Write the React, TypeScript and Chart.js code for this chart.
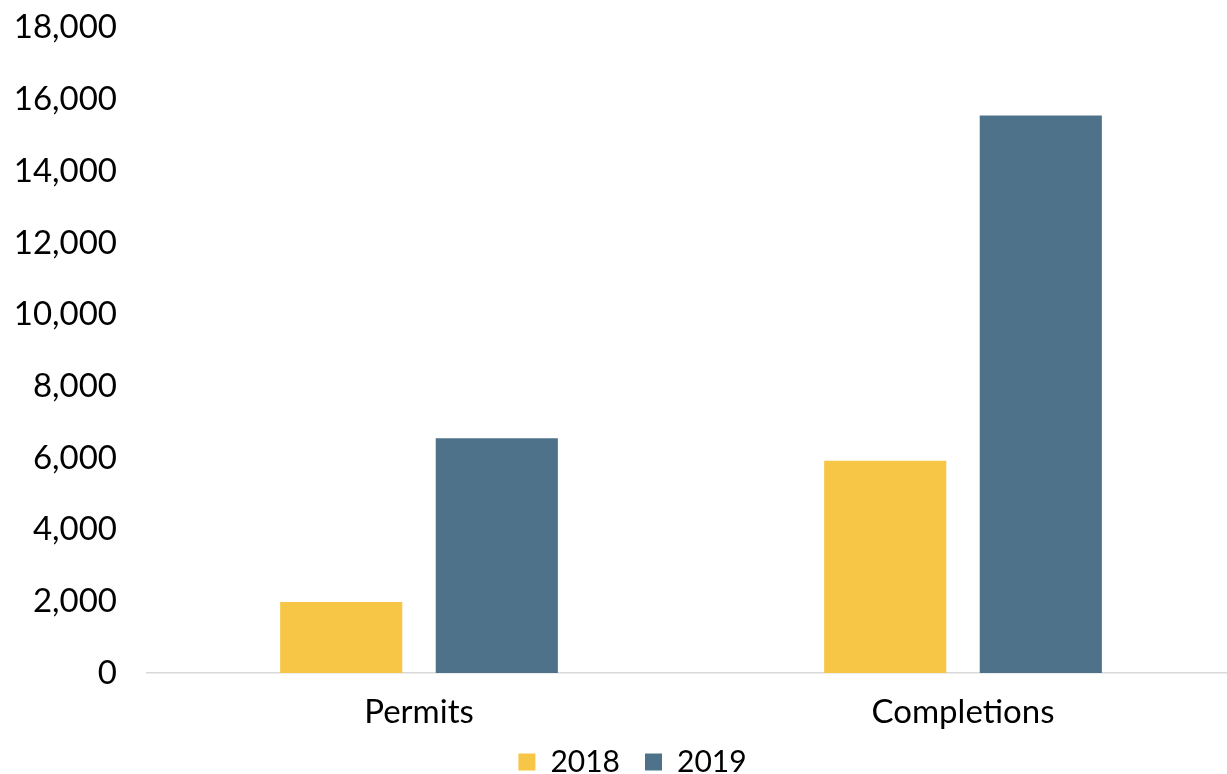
import React, { useEffect, useRef } from "react";
import { Chart, registerables } from "chart.js";

Chart.register(...registerables);

const categories = ["Permits", "Completions"];
const series2018 = [1980, 5920];
const series2019 = [6550, 15550];
const seriesLabels = ["2018", "2019"];
const yTicks = [0, 2000, 4000, 6000, 8000, 10000, 12000, 14000, 16000, 18000];

const FONT = "Lato, 'Open Sans', sans-serif";
const FS = 33;

// keep tick labels from being clipped to their (narrowed) scale boxes
const unclipLabels = {
  id: "unclipLabels",
  afterLayout(chart: any) {
    chart.scales.y.left = 0;
    chart.scales.x.bottom = chart.height;
  },
};

export default function App() {
  const ref = useRef<HTMLCanvasElement | null>(null);
  useEffect(() => {
    if (!ref.current) return;
    const chart = new Chart(ref.current, {
      type: "bar",
      data: {
        labels: categories,
        datasets: [
          {
            label: seriesLabels[0],
            data: series2018,
            backgroundColor: "#F8C646",
            categoryPercentage: 0.572,
            barPercentage: 0.785,
          },
          {
            label: seriesLabels[1],
            data: series2019,
            backgroundColor: "#4F728B",
            categoryPercentage: 0.572,
            barPercentage: 0.785,
          },
        ],
      },
      plugins: [unclipLabels],
      options: {
        responsive: false,
        animation: false,
        layout: { padding: { top: 0, right: 0, left: 30, bottom: 0 } },
        plugins: {
          tooltip: { enabled: false },
          legend: {
            position: "bottom",
            labels: {
              boxWidth: 17,
              boxHeight: 17,
              padding: 25,
              color: "#000",
              font: { family: FONT, size: 30 },
            },
          },
        },
        scales: {
          x: {
            grid: { display: false, tickLength: 8 },
            border: { display: true, color: "#D9D9D9", width: 1.5 },
            ticks: { color: "#000", font: { family: FONT, size: FS }, padding: 12 },
            afterFit: (axis: any) => {
              axis.height = 49;
            },
          },
          y: {
            min: 0,
            max: 18000,
            afterBuildTicks: (axis: any) => {
              axis.ticks = yTicks.map((v) => ({ value: v }));
            },
            afterFit: (axis: any) => {
              axis.width = 117;
            },
            grid: { display: false, tickLength: 22 },
            border: { display: false },
            ticks: {
              color: "#000",
              padding: 8,
              font: { family: FONT, size: FS },
              callback: (v: any) => Number(v).toLocaleString("en-US"),
            },
          },
        },
      },
    });
    return () => chart.destroy();
  }, []);
  return (
    <div style={{ position: "absolute", left: 0, top: 0, width: 1227, height: 774, overflow: "hidden", background: "#fff" }}>
      <canvas ref={ref} width={1235} height={787} style={{ display: "block" }} />
    </div>
  );
}
